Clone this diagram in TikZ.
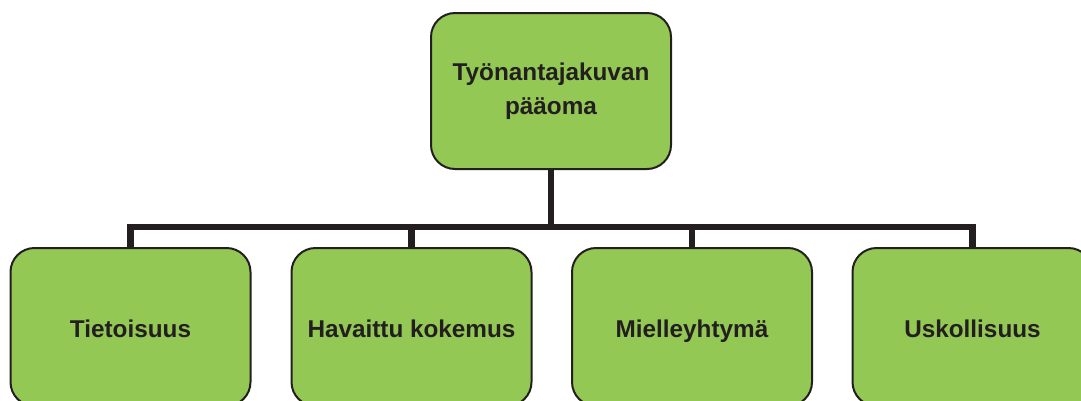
\documentclass[tikz,border=0pt]{standalone}
\usepackage{fontspec}
\setmainfont{Liberation Sans}
\definecolor{boxgreen}{RGB}{146,200,83}
\definecolor{inkdark}{RGB}{35,31,32}
\begin{document}
\begin{tikzpicture}[x=1pt,y=-1pt,
  box/.style={draw=inkdark, line width=2pt, fill=boxgreen, rounded corners=24pt,
    minimum width=240pt, minimum height=156pt, inner sep=0pt, align=center,
    text=inkdark, font=\fontsize{24.3}{34}\selectfont\bfseries},
  leaf/.style={box, minimum height=158pt, text height=20pt, text depth=0pt},
  conn/.style={draw=inkdark, line width=6.5pt}]
\useasboundingbox (0,0) rectangle (1081,400);
\clip (0,0) rectangle (1081,400);
\node[box] (top) at (551,91) {Työnantajakuvan\\pääoma};
\node[leaf] (b1) at (130.5,327) {Tietoisuus};
\node[leaf] (b2) at (411.5,327) {Havaittu kokemus};
\node[leaf] (b3) at (692,327) {Mielleyhtymä};
\node[leaf] (b4) at (972.5,327) {Uskollisuus};
\coordinate (bar) at (551,227);
\draw[conn] (top.south) -- (bar);
\draw[conn] (b1.north) |- (bar -| b4.north) -- (b4.north);
\draw[conn] (b2.north) -- (b2.north |- bar);
\draw[conn] (b3.north) -- (b3.north |- bar);
\end{tikzpicture}
\end{document}
